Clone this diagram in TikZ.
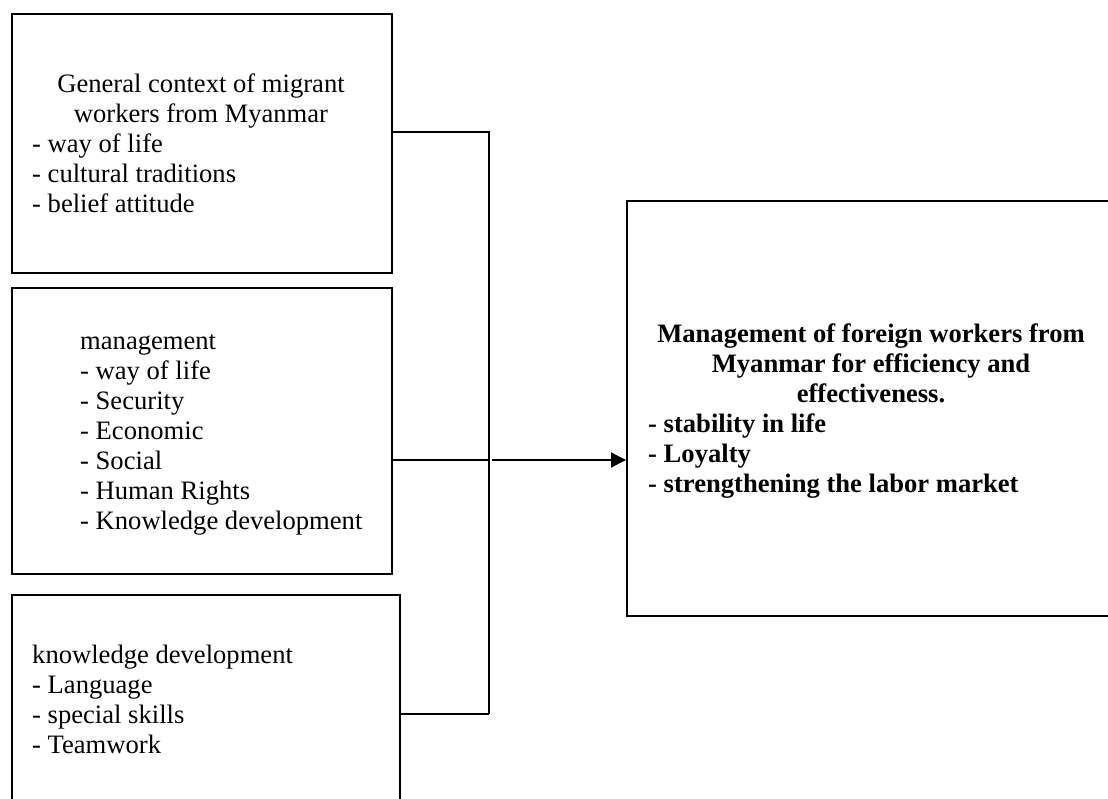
\documentclass[tikz,border=0pt]{standalone}
\usepackage{fontspec}
\setmainfont{Liberation Serif}
\usetikzlibrary{arrows.meta}
\tikzset{
  boxshape/.style={draw, line width=1.6pt, rectangle, inner sep=0pt, anchor=north west},
  txt/.style={inner sep=0pt, font=\fontsize{26.6}{30}\selectfont},
  conn/.style={line width=1.3pt},
}
\begin{document}
\begin{tikzpicture}[x=1pt, y=-1pt]
\clip (0,0) rectangle (1108,798);
% boxes
\node[boxshape, minimum width=380pt, minimum height=259pt] (b1) at (11,13) {};
\node[boxshape, minimum width=380pt, minimum height=286pt] (b2) at (11,287) {};
\node[boxshape, minimum width=388pt, minimum height=240pt] (b3) at (11,594) {};
\node[boxshape, minimum width=490pt, minimum height=415pt] (out) at (626,200) {};
% texts
\node[txt, align=center, anchor=north] (t1) at (201,71) {\strut General context of migrant\\workers from Myanmar};
\node[txt, align=left, anchor=north west] (l1) at (32,131) {\strut - way of life\\- cultural traditions\\- belief attitude};
\node[txt, align=left, anchor=north west] (l2) at (80,328) {\strut management\\- way of life\\- Security\\- Economic\\- Social\\- Human Rights\\- Knowledge development};
\node[txt, align=left, anchor=north west] (l3) at (32,642) {\strut knowledge development\\- Language\\- special skills\\- Teamwork};
\node[txt, align=center, anchor=north, font=\fontsize{26.6}{30}\selectfont\bfseries] (t4) at (871,321) {\strut Management of foreign workers from\\Myanmar for efficiency and\\effectiveness.};
\node[txt, align=left, anchor=north west, font=\fontsize{26.6}{30}\selectfont\bfseries] (l4) at (648,411) {\strut - stability in life\\- Loyalty\\- strengthening the labor market};
% connectors
\coordinate (j1) at (489,132);
\coordinate (j2) at (489,460);
\coordinate (j3) at (489,714);
\coordinate (a0) at (492,460);
\draw[conn] (b1.east |- j1) -- (j1) -- (j3);
\draw[conn] (b2.east |- j2) -- (j2);
\draw[conn] (b3.east |- j3) -- (j3);
\draw[conn, -{Triangle[length=15pt, width=15pt]}] (a0) -- (out.west |- a0);
\end{tikzpicture}
\end{document}
